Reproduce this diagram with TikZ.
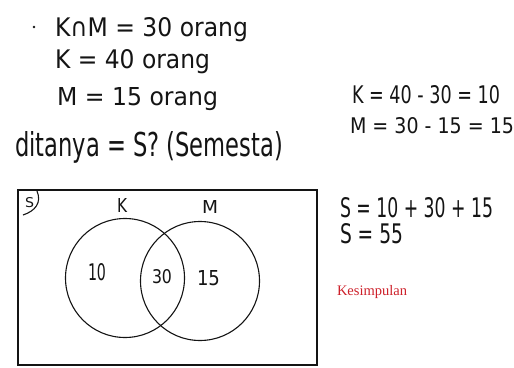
\documentclass[tikz,border=0pt]{standalone}
\usepackage{fontspec}
\setmainfont{DejaVu Sans}
\newfontfamily\kesfont{Liberation Serif}
\usepackage{graphicx}
\definecolor{kesred}{RGB}{205,32,42}
\definecolor{ink}{RGB}{20,20,20}
\newcommand{\hwtext}[3]{\resizebox{#1pt}{#2pt}{#3}}
\tikzset{
  hw/.style={anchor=base west, inner sep=0pt, outer sep=0pt, text=ink},
  vennc/.style={draw=ink, line width=1.1pt, circle, minimum size=119pt, inner sep=0pt},
  frame/.style={draw=ink, line width=1.4pt}
}
\begin{document}
\begin{tikzpicture}[x=1pt,y=-1pt]
\useasboundingbox (0,0) rectangle (514,367);
% given data
\fill[ink] (34,27) circle (1.3pt);
\node[hw] (l1) at (55,36) {\hwtext{193}{19}{K∩M = 30 orang}};
\node[hw] (l2) at (55,68) {\hwtext{155}{19}{K = 40 orang}};
\node[hw] (l3) at (57,105) {\hwtext{161}{18}{M = 15 orang}};
\node[hw] (l4) at (15,156) {\hwtext{268}{25}{ditanya = S? (Semesta)}};
% right calculations
\node[hw] (r1) at (352,103) {\hwtext{148}{18}{K = 40 - 30 = 10}};
\node[hw] (r2) at (350,133) {\hwtext{164}{16}{M = 30 - 15 = 15}};
\node[hw] (r3) at (340,217) {\hwtext{153}{20}{S = 10 + 30 + 15}};
\node[hw] (r4) at (340,243) {\hwtext{63}{20}{S = 55}};
\node[hw, text=kesred] (kes) at (337,295) {\kesfont\fontsize{14.5}{16}\selectfont Kesimpulan};
% venn diagram
\draw[frame] (18,190) rectangle (317,365);
\node[hw] (sl) at (25,207) {\hwtext{9}{10}{S}};
\draw[ink, line width=1.1pt] (37,191) .. controls (42,203) and (35,211) .. (23,215);
\node[vennc] (K) at (125,278) {};
\node[vennc] (M) at (200,281) {};
\node[hw] (kl) at (117,212) {\hwtext{10}{14}{K}};
\node[hw] (ml) at (202,213) {\hwtext{16}{13}{M}};
\node[hw] (n10) at (88,280) {\hwtext{18}{17}{10}};
\node[hw] (n30) at (152,283) {\hwtext{20}{14}{30}};
\node[hw] (n15) at (197,285) {\hwtext{23}{15}{15}};
\end{tikzpicture}
\end{document}
